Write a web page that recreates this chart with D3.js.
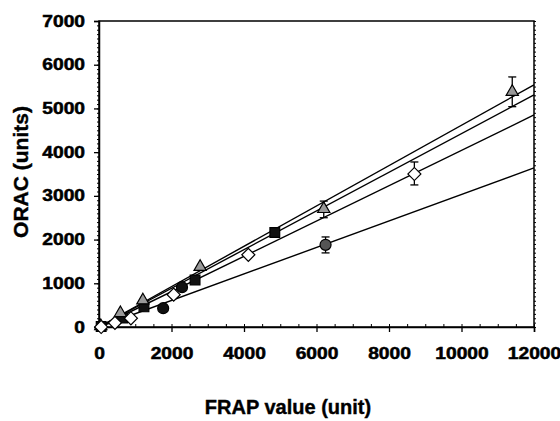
<!DOCTYPE html>
<html>
<head>
<meta charset="utf-8">
<script src="https://cdn.jsdelivr.net/npm/d3@7"></script>
<style>
  body { margin: 0; background: #fff; }
  text { font-family: "Liberation Sans", Arial, sans-serif; font-weight: bold; fill: #000; }
</style>
</head>
<body>
<div id="chart"></div>
<script>
// series: [FRAP, ORAC]
const triangles = [[50, 20], [590, 320], [1210, 610], [2790, 1375], [6200, 2700], [11400, 5380]];
const squares = [[60, 10], [650, 205], [1240, 460], [2650, 1075], [4850, 2160]];
const diamonds = [[60, 0], [440, 95], [880, 200], [2060, 740], [4120, 1650], [8700, 3500]];
const blackCircles = [[1770, 430], [2290, 910]];
const grayCircles = [[6250, 1880]];

// error bars: [FRAP, low, high]
const errTriangles = [[6200, 2500, 2880], [11400, 5040, 5720]];
const errDiamonds = [[8700, 3250, 3775]];
const errCircles = [[6250, 1695, 2060]];

// regression line end points read at x = 0 and x = 12000
const fitTriangles = [[0, 0], [12000, 5540]];
const fitSquares = [[0, 0], [12000, 5310]];
const fitDiamonds = [[0, 0], [12000, 4850]];
const fitCircles = [[0, 0], [12000, 3640]];

const xTicks = [0, 2000, 4000, 6000, 8000, 10000, 12000];
const yTicks = [0, 1000, 2000, 3000, 4000, 5000, 6000, 7000];

const width = 560;
const height = 421;
const margin = { top: 21, right: 26, bottom: 94, left: 99 };

const svg = d3.select("#chart")
  .append("svg")
  .attr("width", width)
  .attr("height", height);

const x = d3.scaleLinear().domain([0, 12000]).range([margin.left, width - margin.right]);
const y = d3.scaleLinear().domain([0, 7000]).range([height - margin.bottom, margin.top]);

const stretch = 1.2;

// frame
svg.append("rect")
  .attr("x", x(0))
  .attr("y", y(7000))
  .attr("width", x(12000) - x(0))
  .attr("height", y(0) - y(7000))
  .attr("fill", "none")
  .attr("stroke", "#000")
  .attr("stroke-width", 1.5);

// minor ticks
svg.append("g")
  .attr("transform", `translate(${x(0)},0)`)
  .call(d3.axisLeft(y).ticks(70).tickSize(2).tickFormat(""))
  .call(g => g.select(".domain").remove());

svg.append("g")
  .attr("transform", `translate(${x(12000)},0)`)
  .call(d3.axisRight(y).ticks(70).tickSize(2).tickFormat(""))
  .call(g => g.select(".domain").remove());

svg.append("g")
  .attr("transform", `translate(0,${y(0)})`)
  .call(d3.axisTop(x).ticks(24).tickSize(3).tickFormat(""))
  .call(g => g.select(".domain").remove());

// major axes
const xAxis = svg.append("g")
  .attr("transform", `translate(0,${y(0)})`)
  .call(d3.axisBottom(x).tickValues(xTicks).tickSize(5).tickPadding(16).tickFormat(d3.format("d")));

const yAxis = svg.append("g")
  .attr("transform", `translate(${x(0)},0)`)
  .call(d3.axisLeft(y).tickValues(yTicks).tickSize(5).tickPadding(9).tickFormat(d3.format("d")));

[xAxis, yAxis].forEach(g => {
  g.select(".domain").attr("stroke-width", 1.5);
  g.selectAll(".tick line").attr("stroke-width", 1.3);
  g.selectAll("text")
    .attr("font-size", 16)
    .attr("font-family", "Liberation Sans, Arial, sans-serif")
    .attr("font-weight", "bold")
    .attr("stroke", "#000")
    .attr("stroke-width", 0.5);
});

xAxis.selectAll("text").attr("transform", `scale(${stretch},1)`);
yAxis.selectAll("text")
  .attr("x", -14 / stretch)
  .attr("transform", `scale(${stretch},1)`);

// axis titles
svg.append("text")
  .attr("x", 288)
  .attr("y", 414)
  .attr("text-anchor", "middle")
  .attr("font-size", 20)
  .attr("stroke", "#000")
  .attr("stroke-width", 0.4)
  .text("FRAP value (unit)");

svg.append("text")
  .attr("transform", "translate(28,172) rotate(-90)")
  .attr("text-anchor", "middle")
  .attr("font-size", 21)
  .attr("stroke", "#000")
  .attr("stroke-width", 0.4)
  .text("ORAC (units)");

// regression lines
const line = d3.line().x(d => x(d[0])).y(d => y(d[1]));
[fitTriangles, fitSquares, fitDiamonds, fitCircles].forEach(f => {
  svg.append("path")
    .attr("d", line(f))
    .attr("fill", "none")
    .attr("stroke", "#000")
    .attr("stroke-width", 1.4);
});

// error bars
const errG = svg.append("g").attr("stroke", "#000").attr("stroke-width", 1.3);
[...errTriangles, ...errDiamonds, ...errCircles].forEach(e => {
  errG.append("line")
    .attr("x1", x(e[0])).attr("x2", x(e[0]))
    .attr("y1", y(e[1])).attr("y2", y(e[2]));
  [e[1], e[2]].forEach(v => {
    errG.append("line")
      .attr("x1", x(e[0]) - 4).attr("x2", x(e[0]) + 4)
      .attr("y1", y(v)).attr("y2", y(v));
  });
});

// markers
function drawMarks(data, type, size, fill, rotate = 0) {
  svg.append("g")
    .selectAll("path")
    .data(data)
    .join("path")
    .attr("transform", d => `translate(${x(d[0])},${y(d[1])}) rotate(${rotate})`)
    .attr("d", d3.symbol(type, size))
    .attr("fill", fill)
    .attr("stroke", "#000")
    .attr("stroke-width", 1.2);
}

drawMarks(blackCircles, d3.symbolCircle, 95, "#111");
drawMarks(grayCircles, d3.symbolCircle, 95, "#555");
drawMarks(squares, d3.symbolSquare, 95, "#111");
drawMarks(triangles, d3.symbolTriangle, 65, "#999");
drawMarks(diamonds, d3.symbolSquare, 85, "#fff", 45);
</script>
</body>
</html>
